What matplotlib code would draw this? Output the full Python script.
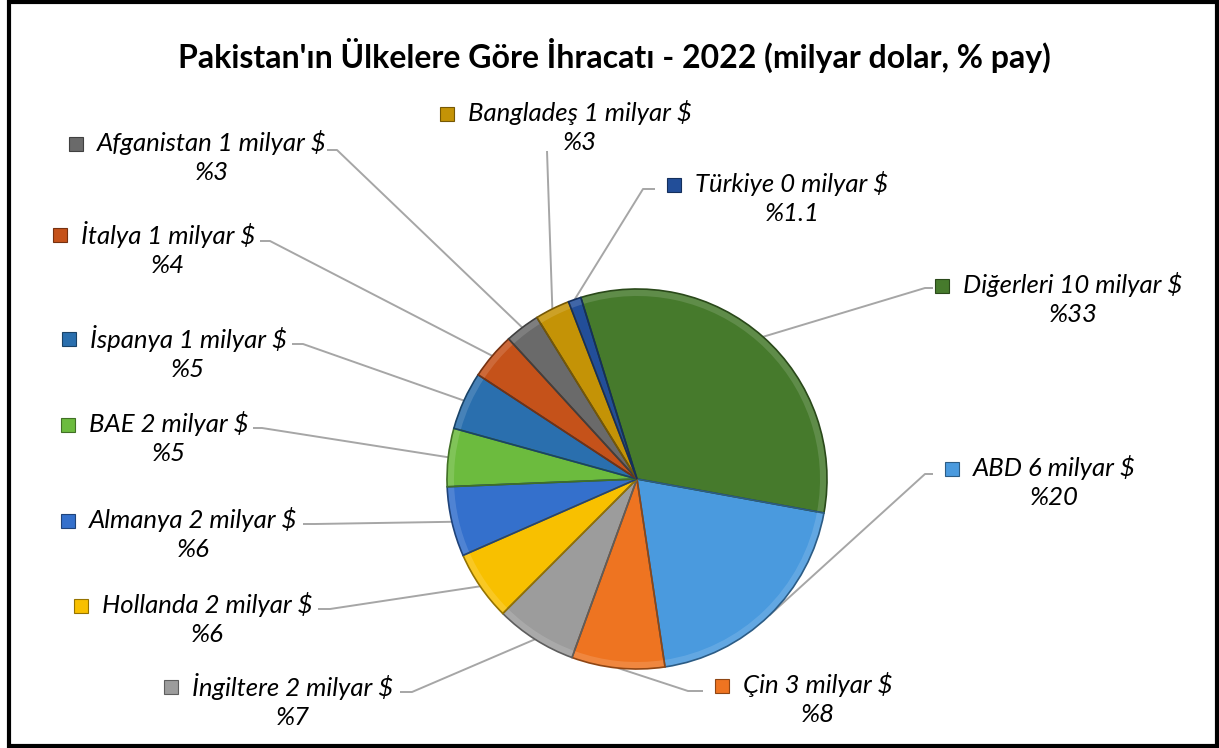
import numpy as np
import matplotlib as mpl
mpl.use('Agg')
import matplotlib.pyplot as plt
from matplotlib.patches import Rectangle, Wedge
from matplotlib.colors import to_rgb

plt.rcParams['font.family'] = ['Lato', 'DejaVu Sans']

# data, clockwise from the top
countries = ['Diğerleri', 'ABD', 'Çin', 'İngiltere', 'Hollanda', 'Almanya',
             'BAE', 'İspanya', 'İtalya', 'Afganistan', 'Bangladeş', 'Türkiye']
billions = [10, 6, 3, 2, 2, 2, 2, 1, 1, 1, 1, 0]
shares = [33, 20, 8, 7, 6, 6, 5, 5, 4, 3, 3, 1.1]
share_labels = ['33', '20', '8', '7', '6', '6', '5', '5', '4', '3', '3', '1.1']
colors = ['#467a2c', '#4a9ade', '#ee7421', '#9c9c9c', '#f8c000', '#3470cc',
          '#6cbb3e', '#2a6fae', '#c5521a', '#6a6a6a', '#c49306', '#224e99']

W, H = 1219, 748
def Y(y):
    return H - y

# layout (pixels from top-left): label centre, leader start and elbow
label_xy = [(1073, 299), (1054, 482), (818, 699), (293, 701), (207, 619),
            (193, 534), (169, 438), (188, 353), (168, 249), (212, 157),
            (580, 127), (792, 198)]
leader_start = [(933, 288), (933, 474), (703, 691), (400, 692), (318, 609),
                (303, 524), (253, 428), (292, 344), (260, 241), (327, 150),
                (547, 151), (655, 189)]
leader_elbow = [(925, 288), (925, 474), (688, 691), (412, 692), (330, 609),
                (315, 524), (262, 428), (303, 344), (270, 241), (337, 150),
                (547, 151), (643, 189)]

fig = plt.figure(figsize=(W / 100, H / 100), dpi=100)
ax = fig.add_axes([0, 0, 1, 1])
cx, cy, R = 637, Y(479), 190

def shade(c, f):
    r = np.array(to_rgb(c))
    return tuple(r * f) if f < 1 else tuple(r + (1 - r) * (f - 1))

wedges, _ = ax.pie(shares, colors=colors, startangle=107.2, counterclock=False,
                   radius=R, center=(cx, cy),
                   wedgeprops=dict(edgecolor='none', linewidth=0))
# fake bevel: light rim on the wedge, dark outline
for w, c in zip(wedges, colors):
    ax.add_patch(Wedge((cx, cy), R, w.theta1, w.theta2, width=7,
                       facecolor=shade(c, 1.25), edgecolor='none', alpha=0.55))
    ax.add_patch(Wedge((cx, cy), R, w.theta1, w.theta2, fill=False,
                       edgecolor=shade(c, 0.6), linewidth=1.2))

ax.set_xlim(0, W)
ax.set_ylim(0, H)
ax.set_aspect('auto')
ax.axis('off')

texts = []
for i, w in enumerate(wedges):
    mid = np.deg2rad((w.theta1 + w.theta2) / 2)
    ex, ey = cx + R * np.cos(mid), cy + R * np.sin(mid)
    sx, sy = leader_start[i]
    bx, by = leader_elbow[i]
    ax.plot([sx, bx, ex], [Y(sy), Y(by), ey], color='#a6a6a6', lw=1.4,
            solid_capstyle='butt', zorder=0)
    s = '%s %d milyar $\n%%%s' % (countries[i], billions[i], share_labels[i])
    t = ax.text(label_xy[i][0], Y(label_xy[i][1]), s, ha='center', va='center',
                multialignment='center', fontsize=18.5, style='italic',
                linespacing=1.3, color='black')
    texts.append(t)

ax.text(614, Y(55), "Pakistan'ın Ülkelere Göre İhracatı - 2022 (milyar dolar, % pay)",
        ha='center', va='center', fontsize=23, fontweight='bold')

fig.canvas.draw()
r = fig.canvas.get_renderer()
for i, t in enumerate(texts):
    bb = t.get_window_extent(r)
    mx = bb.x0 - 21
    my = bb.y1 - 0.25 * bb.height
    c = colors[i]
    ax.add_patch(Rectangle((mx - 7, my - 7), 14, 14, facecolor=c,
                           edgecolor=shade(c, 0.6), lw=0.8))

fig.add_artist(Rectangle((9 / W, 2 / H), (W - 11) / W, (H - 4) / H,
                         transform=fig.transFigure, fill=False,
                         edgecolor='black', lw=3))

fig.savefig('out.png', dpi=100)
